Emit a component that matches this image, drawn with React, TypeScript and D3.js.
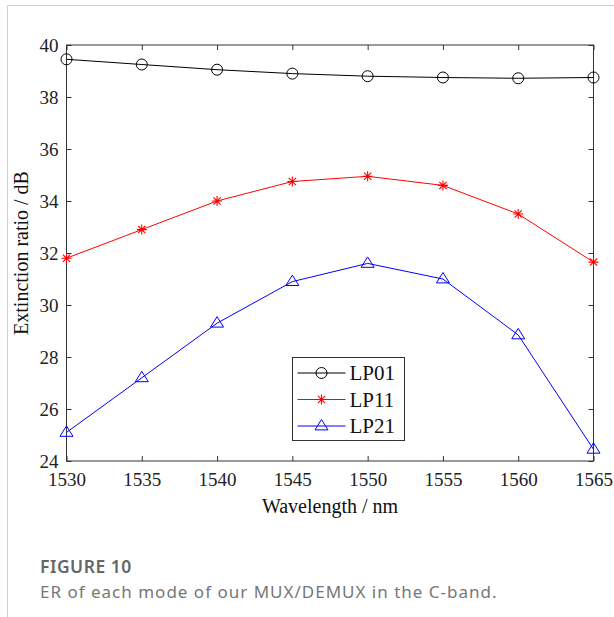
import React, { useEffect, useRef } from "react";
import * as d3 from "d3";

const wavelengths = [1530, 1535, 1540, 1545, 1550, 1555, 1560, 1565];
const lp01 = [39.45, 39.25, 39.05, 38.9, 38.8, 38.75, 38.72, 38.75];
const lp11 = [31.8, 32.9, 34.0, 34.75, 34.95, 34.6, 33.5, 31.65];
const lp21 = [25.1, 27.2, 29.3, 30.9, 31.6, 31.0, 28.85, 24.45];
const yTicks = [24, 26, 28, 30, 32, 34, 36, 38, 40];

const seriesList = [
  { name: "LP01", values: lp01, color: "#000000", marker: "circle" },
  { name: "LP11", values: lp11, color: "#ff0000", marker: "star" },
  { name: "LP21", values: lp21, color: "#0000ff", marker: "triangle" },
];

const App: React.FC = () => {
  const svgRef = useRef<SVGSVGElement | null>(null);

  useEffect(() => {
    if (!svgRef.current) return;
    const width = 614;
    const height = 617;
    const margin = { top: 45, right: 20.5, bottom: 156, left: 66.5 };
    const innerWidth = width - margin.left - margin.right;
    const innerHeight = height - margin.top - margin.bottom;

    const root = d3.select(svgRef.current);
    root.selectAll("*").remove();
    root.attr("width", width).attr("height", height);

    // page frame lines
    root.append("line").attr("x1", 7.5).attr("x2", 7.5).attr("y1", 5).attr("y2", height)
      .attr("stroke", "#d0d0d0").attr("stroke-width", 1);
    root.append("line").attr("x1", 7.5).attr("x2", width).attr("y1", 5.5).attr("y2", 5.5)
      .attr("stroke", "#d0d0d0").attr("stroke-width", 1);

    const x = d3.scaleLinear().domain([1530, 1565]).range([0, innerWidth]);
    const y = d3.scaleLinear().domain([24, 40]).range([innerHeight, 0]);

    const svg = root.append("g").attr("transform", `translate(${margin.left},${margin.top})`);
    const axisColor = "#333";
    const font = "'Liberation Serif', 'Times New Roman', serif";

    // axes with inward ticks
    const styleAxis = (g: any) => {
      g.select(".domain").remove();
      g.selectAll("line").attr("stroke", axisColor);
      g.selectAll("text").attr("font-family", font).attr("font-size", 19).attr("fill", "#222");
    };
    svg.append("g").attr("transform", `translate(0,${innerHeight})`)
      .call(d3.axisBottom(x).tickValues(wavelengths).tickSizeInner(-5).tickSizeOuter(0).tickPadding(12).tickFormat(d3.format("d")))
      .call(styleAxis);
    svg.append("g")
      .call(d3.axisTop(x).tickValues(wavelengths).tickSizeInner(-5).tickSizeOuter(0).tickFormat(() => ""))
      .call(styleAxis);
    svg.append("g")
      .call(d3.axisLeft(y).tickValues(yTicks).tickSizeInner(-5).tickSizeOuter(0).tickPadding(8).tickFormat(d3.format("d")))
      .call(styleAxis);
    svg.append("g").attr("transform", `translate(${innerWidth},0)`)
      .call(d3.axisRight(y).tickValues(yTicks).tickSizeInner(-5).tickSizeOuter(0).tickFormat(() => ""))
      .call(styleAxis);

    svg.append("rect").attr("width", innerWidth).attr("height", innerHeight)
      .attr("fill", "none").attr("stroke", axisColor).attr("stroke-width", 1);

    const drawMarker = (g: any, kind: string, cx: number, cy: number, color: string) => {
      if (kind === "circle") {
        g.append("circle").attr("cx", cx).attr("cy", cy).attr("r", 5.5)
          .attr("fill", "none").attr("stroke", color).attr("stroke-width", 1);
      } else if (kind === "star") {
        const r = 5;
        const p = d3.path();
        p.moveTo(cx - r, cy); p.lineTo(cx + r, cy);
        p.moveTo(cx, cy - r); p.lineTo(cx, cy + r);
        const d = r * 0.72;
        p.moveTo(cx - d, cy - d); p.lineTo(cx + d, cy + d);
        p.moveTo(cx - d, cy + d); p.lineTo(cx + d, cy - d);
        g.append("path").attr("d", p.toString()).attr("stroke", color).attr("stroke-width", 1.1).attr("fill", "none");
      } else {
        const s = 6.5;
        g.append("path")
          .attr("d", `M${cx},${cy - s}L${cx + s},${cy + s * 0.6}L${cx - s},${cy + s * 0.6}Z`)
          .attr("fill", "none").attr("stroke", color).attr("stroke-width", 1);
      }
    };

    const line = d3.line<number>().x((_, i) => x(wavelengths[i])).y(d => y(d));

    seriesList.forEach(s => {
      svg.append("path").datum(s.values).attr("d", line as any)
        .attr("fill", "none").attr("stroke", s.color).attr("stroke-width", 1);
      s.values.forEach((v, i) => drawMarker(svg, s.marker, x(wavelengths[i]), y(v), s.color));
    });

    // legend
    const lx = 292.5 - margin.left;
    const ly = 357.5 - margin.top;
    const legend = svg.append("g").attr("transform", `translate(${lx},${ly})`);
    legend.append("rect").attr("width", 112).attr("height", 83)
      .attr("fill", "#fff").attr("stroke", axisColor).attr("stroke-width", 1);
    seriesList.forEach((s, i) => {
      const rowY = 15.5 + i * 26.5;
      legend.append("line").attr("x1", 5).attr("x2", 53).attr("y1", rowY).attr("y2", rowY)
        .attr("stroke", s.color).attr("stroke-width", 1);
      drawMarker(legend, s.marker, 29, rowY, s.color);
      legend.append("text").attr("x", 57).attr("y", rowY + 7)
        .attr("font-family", font).attr("font-size", 21).attr("fill", "#111").text(s.name);
    });

    // axis titles
    svg.append("text").attr("x", innerWidth / 2).attr("y", innerHeight + 52)
      .attr("text-anchor", "middle").attr("font-family", font).attr("font-size", 20).attr("fill", "#111")
      .text("Wavelength / nm");
    svg.append("text")
      .attr("transform", `translate(${-39},${innerHeight / 2}) rotate(-90)`)
      .attr("text-anchor", "middle").attr("font-family", font).attr("font-size", 20).attr("fill", "#111")
      .text("Extinction ratio / dB");

    // caption
    const capFont = "'Noto Sans', 'Open Sans', sans-serif";
    root.append("text").attr("x", 40).attr("y", 573)
      .attr("font-family", capFont).attr("font-size", 17.5).attr("font-weight", 600)
      .attr("letter-spacing", 0.5).attr("fill", "#666").text("FIGURE 10");
    root.append("text").attr("x", 40).attr("y", 598)
      .attr("font-family", capFont).attr("font-size", 17)
      .attr("letter-spacing", 1.0).attr("fill", "#777").text("ER of each mode of our MUX/DEMUX in the C-band.");
  }, []);

  return (
    <div style={{ position: "absolute", left: 0, top: 0 }}>
      <svg ref={svgRef}></svg>
    </div>
  );
};

export default App;
